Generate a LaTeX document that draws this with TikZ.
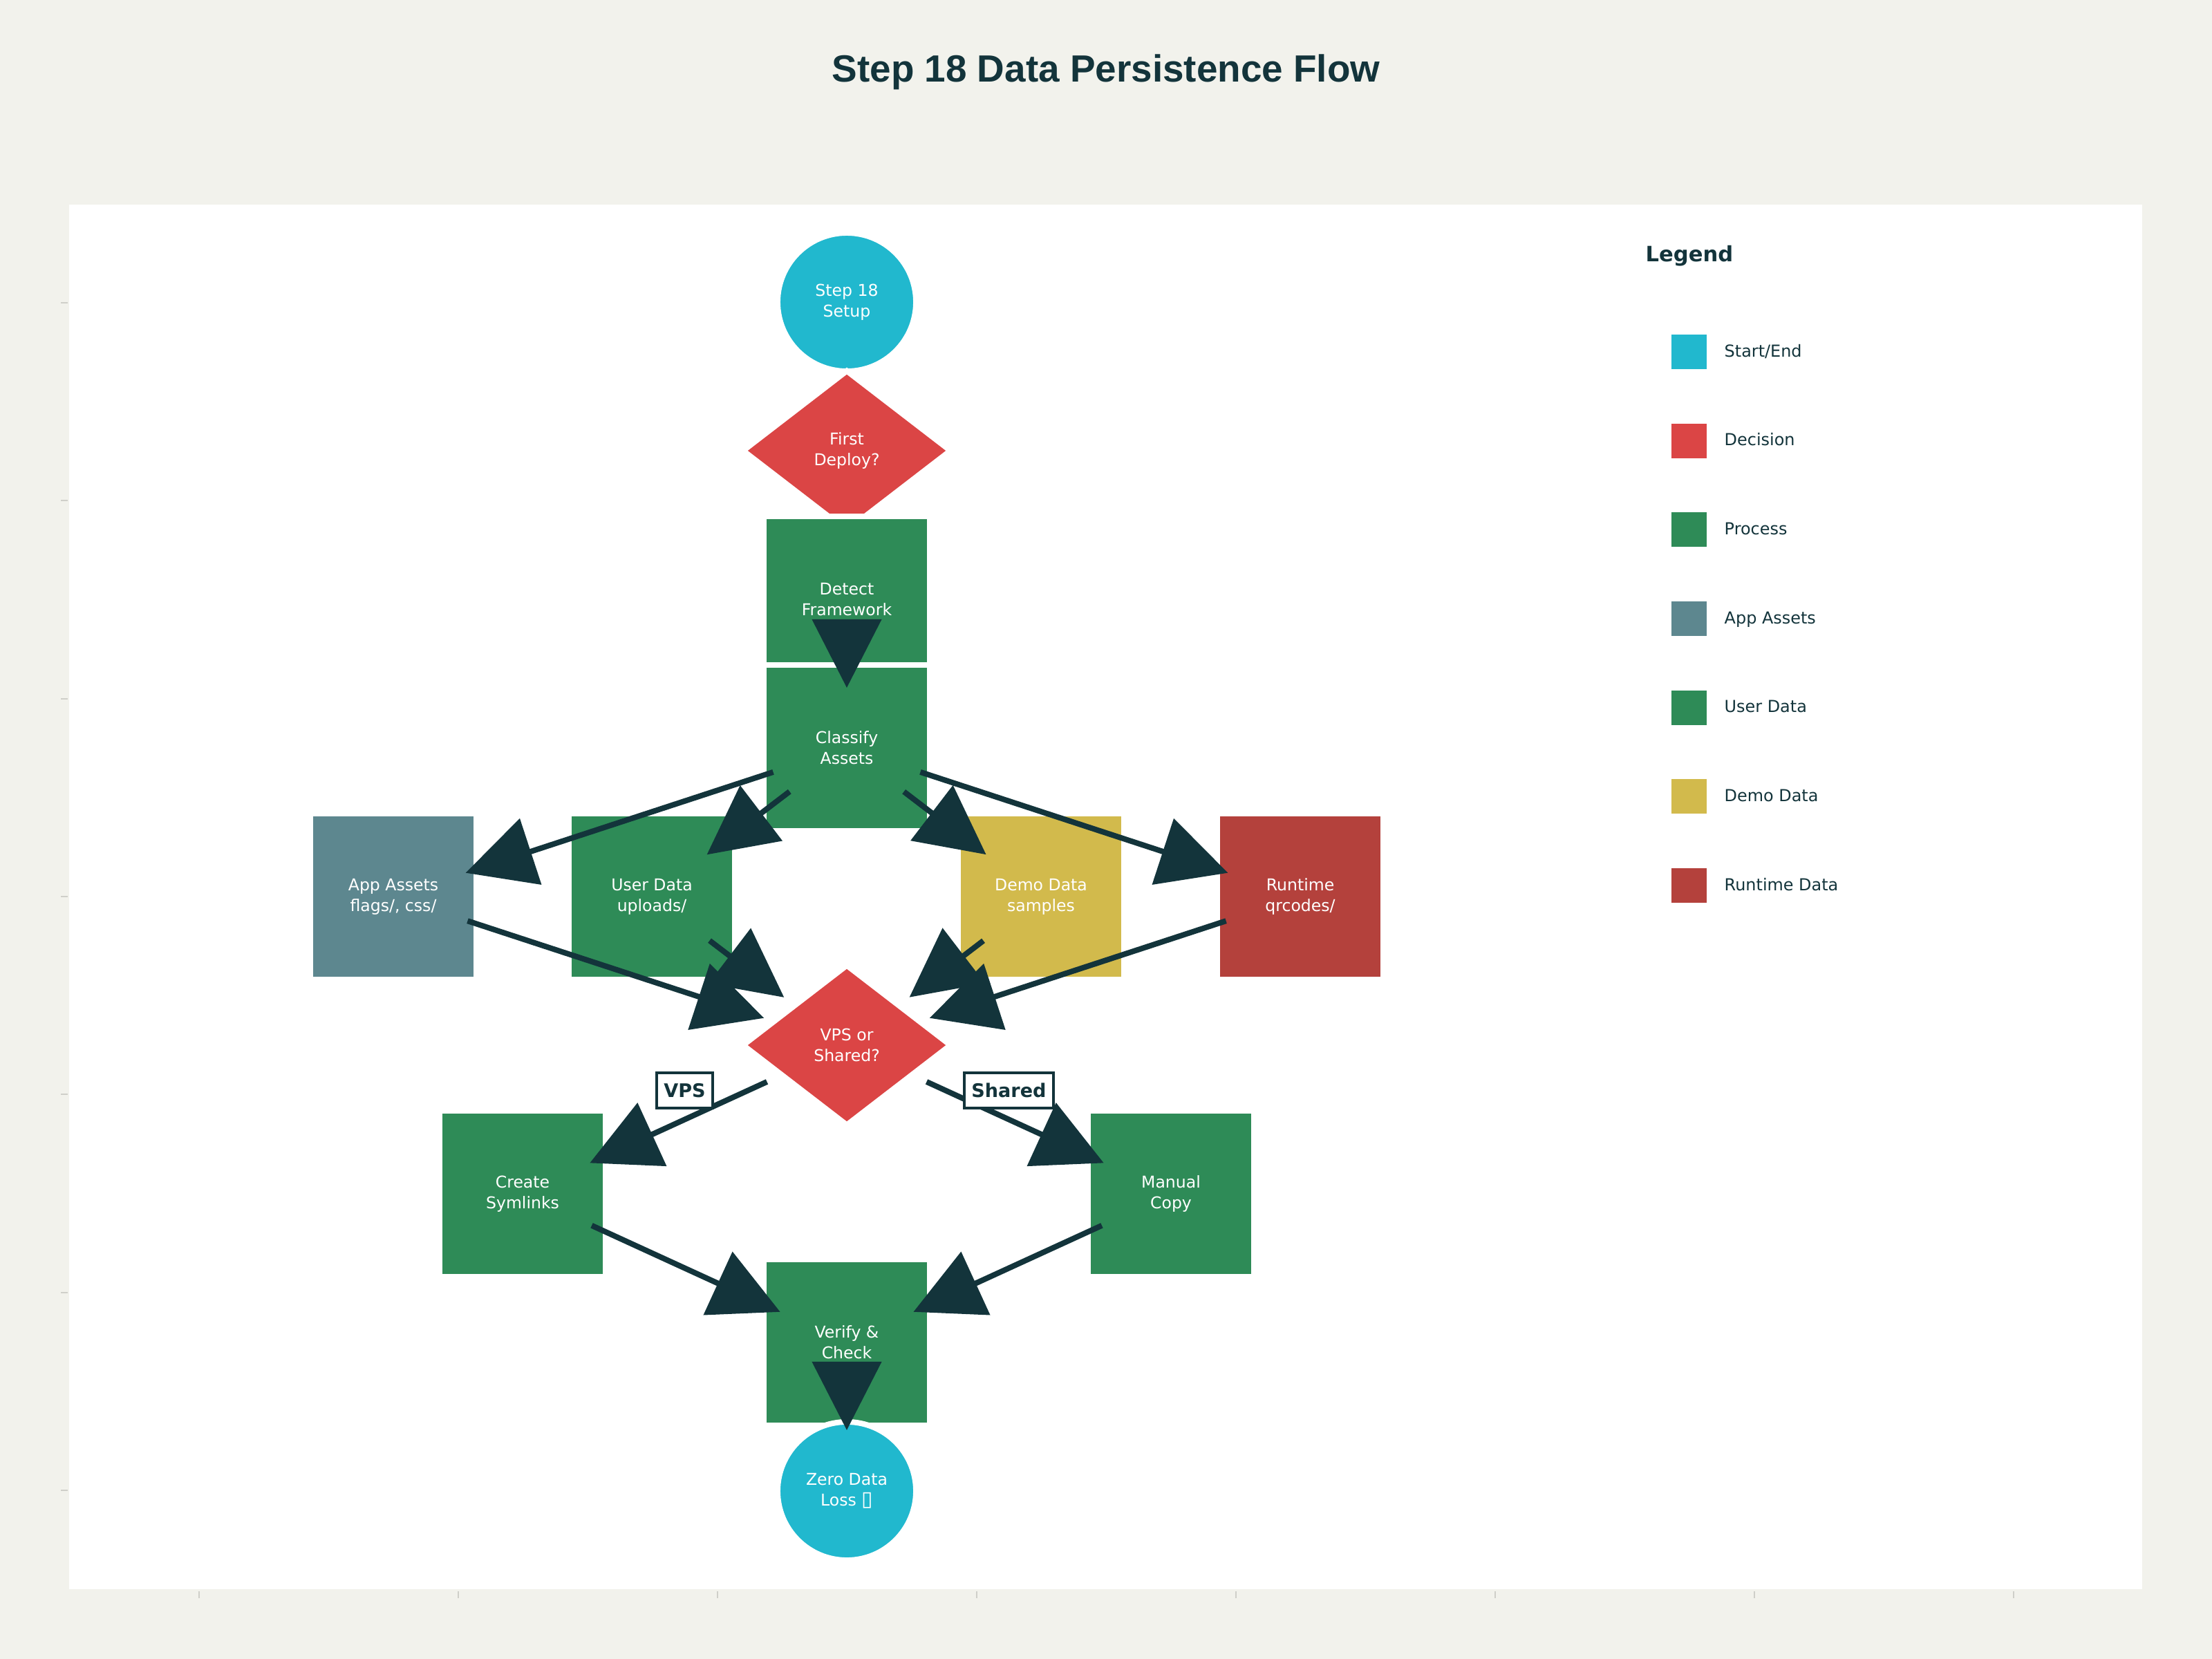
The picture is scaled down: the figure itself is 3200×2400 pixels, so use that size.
\documentclass[tikz,border=0pt]{standalone}
\usepackage{fontspec}
\setmainfont{DejaVu Sans}
\newfontfamily\titlefont{Liberation Sans}
\usetikzlibrary{shapes.geometric,arrows.meta,calc}

\definecolor{pagebg}{HTML}{F2F2EC}
\definecolor{ink}{HTML}{13343B}
\definecolor{termcol}{HTML}{21B8CE}
\definecolor{decidecol}{HTML}{DB4545}
\definecolor{processcol}{HTML}{2E8B57}
\definecolor{assetcol}{HTML}{5D878F}
\definecolor{democol}{HTML}{D2BA4C}
\definecolor{runtimecol}{HTML}{B4413C}
\definecolor{tickcol}{HTML}{CFCFC9}

\tikzset{
  base/.style={draw=white, line width=0.08cm, text=white, align=center,
    font=\fontsize{6.7pt}{8.5pt}\selectfont, inner sep=0pt},
  term/.style={base, circle, fill=termcol, minimum size=2cm},
  decide/.style={base, diamond, fill=decidecol, minimum width=3.03cm, minimum height=2.34cm},
  box/.style={base, rectangle, minimum size=2.4cm},
  flow/.style={draw=ink, line width=0.08cm, -{Triangle[length=0.99cm, width=0.99cm]}},
  choice/.style={draw=ink, fill=white, line width=0.04cm, text=ink,
    font=\fontsize{7.7pt}{9pt}\selectfont\bfseries, inner xsep=0.1cm, inner ysep=0pt,
    minimum height=0.5cm},
  swatch/.style={minimum width=0.51cm, minimum height=0.5cm, inner sep=0pt},
  keytext/.style={anchor=west, text=ink, font=\fontsize{6.8pt}{8pt}\selectfont,
    text height=0.18cm, text depth=0.04cm, inner sep=0pt},
}

\begin{document}
\begin{tikzpicture}[x=0.01cm, y=-0.01cm]
  % page and panel
  \fill[pagebg] (0,0) rectangle (3200,2400);
  \fill[white] (100,296) rectangle (3099,2299);
  \foreach \k in {0,...,6}
    \draw[tickcol, line width=0.02cm] (88,438+286.3*\k) -- (98,438+286.3*\k);
  \foreach \k in {0,...,7}
    \draw[tickcol, line width=0.02cm] (288+375*\k,2302) -- (288+375*\k,2312);

  \node[anchor=base, text=ink, font=\titlefont\fontsize{15.6pt}{18pt}\selectfont\bfseries]
    (title) at (1600,119) {Step 18 Data Persistence Flow};

  % nodes
  \node[term] (start) at (1225,437) {Step 18\\Setup};
  \node[decide] (deploy) at (1225,652) {First\\Deploy?};
  \node[box, fill=processcol] (detect) at (1225,867) {Detect\\Framework};
  \node[box, fill=processcol] (classify) at (1225,1082) {Classify\\Assets};
  \node[box, fill=assetcol] (assets) at (569,1297) {App Assets\\flags/, css/};
  \node[box, fill=processcol] (userdata) at (943,1297) {User Data\\uploads/};
  \node[box, fill=democol] (demodata) at (1506,1297) {Demo Data\\samples};
  \node[box, fill=runtimecol] (runtime) at (1881,1297) {Runtime\\qrcodes/};
  \node[decide] (host) at (1225,1512) {VPS or\\Shared?};
  \node[box, fill=processcol] (symlinks) at (756,1727) {Create\\Symlinks};
  \node[box, fill=processcol] (manualcopy) at (1694,1727) {Manual\\Copy};
  \node[box, fill=processcol] (verify) at (1225,1942) {Verify \&\\Check};
  \node[term] (finish) at (1225,2157) {Zero Data\\Loss {\fontsize{8.5pt}{8.5pt}\selectfont ▯}};

  % connectors
  \draw[flow, shorten <=1.1cm, shorten >=0.87cm] (detect.center) -- (classify.center);
  \draw[flow, shorten <=1.12cm, shorten >=1.1cm] (classify.center) -- (assets.center);
  \draw[flow, shorten <=1.04cm, shorten >=1.0cm] (classify.center) -- (userdata.center);
  \draw[flow, shorten <=1.04cm, shorten >=1.0cm] (classify.center) -- (demodata.center);
  \draw[flow, shorten <=1.12cm, shorten >=1.1cm] (classify.center) -- (runtime.center);
  \draw[flow, shorten <=1.13cm, shorten >=1.26cm] (assets.center) -- (host.center);
  \draw[flow, shorten <=1.05cm, shorten >=1.14cm] (userdata.center) -- (host.center);
  \draw[flow, shorten <=1.05cm, shorten >=1.14cm] (demodata.center) -- (host.center);
  \draw[flow, shorten <=1.13cm, shorten >=1.26cm] (runtime.center) -- (host.center);
  \draw[flow, shorten <=1.27cm, shorten >=1.07cm] (host.center) -- (symlinks.center)
    node[choice, pos=.5, yshift=0.42cm] (vpslab) {VPS};
  \draw[flow, shorten <=1.27cm, shorten >=1.07cm] (host.center) -- (manualcopy.center)
    node[choice, pos=.5, yshift=0.42cm] (sharedlab) {Shared};
  \draw[flow, shorten <=1.1cm, shorten >=1.06cm] (symlinks.center) -- (verify.center);
  \draw[flow, shorten <=1.1cm, shorten >=1.06cm] (manualcopy.center) -- (verify.center);
  \draw[flow, shorten <=1.1cm, shorten >=0.88cm] (verify.center) -- (finish.center);

  % legend
  \node[anchor=base west, text=ink, font=\fontsize{8.7pt}{10pt}\selectfont\bfseries, inner sep=0pt]
    (legend) at (2380,378) {Legend};
  \foreach \col/\lab [count=\i from 0] in {termcol/Start\slash End, decidecol/Decision,
      processcol/Process, assetcol/App Assets, processcol/User Data,
      democol/Demo Data, runtimecol/Runtime Data} {
    \node[swatch, fill=\col] (key\i) at (2443,509+128.67*\i) {};
    \node[keytext] (keylab\i) at (2494,509+128.67*\i) {\lab};
  }
\end{tikzpicture}
\end{document}
